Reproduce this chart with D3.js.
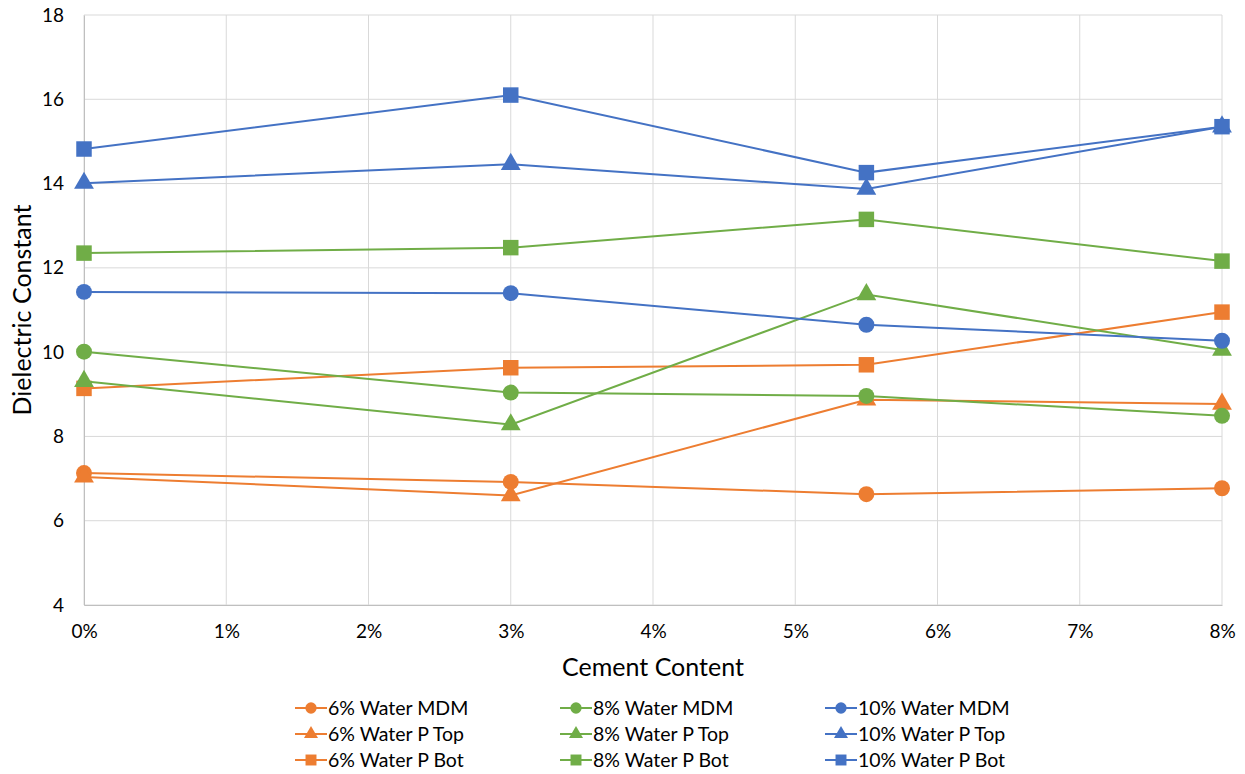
<!DOCTYPE html>
<html>
<head>
<meta charset="utf-8">
<script src="https://cdn.jsdelivr.net/npm/d3@7"></script>
<style>
  html, body { margin: 0; padding: 0; background: #fff; }
  svg { display: block; font-family: Lato, "Open Sans", sans-serif; }
</style>
</head>
<body>
<svg id="chart" width="1245" height="774"></svg>
<script>
// Cement content at which each measurement was taken
const cementContent = [0, 0.03, 0.055, 0.08];

// Dielectric constant readings per water content and method
const water6MDM  = [7.13, 6.92, 6.63, 6.77];
const water6PTop = [7.04, 6.60, 8.87, 8.77];
const water6PBot = [9.14, 9.63, 9.70, 10.95];
const water8MDM  = [10.01, 9.04, 8.96, 8.49];
const water8PTop = [9.31, 8.28, 11.37, 10.05];
const water8PBot = [12.35, 12.48, 13.15, 12.16];
const water10MDM  = [11.43, 11.40, 10.65, 10.27];
const water10PTop = [14.01, 14.46, 13.87, 15.35];
const water10PBot = [14.82, 16.10, 14.26, 15.35];

const xTicks = [0, 0.01, 0.02, 0.03, 0.04, 0.05, 0.06, 0.07, 0.08];
const yTicks = [4, 6, 8, 10, 12, 14, 16, 18];

const seriesNames = [
  "6% Water MDM", "6% Water P Top", "6% Water P Bot",
  "8% Water MDM", "8% Water P Top", "8% Water P Bot",
  "10% Water MDM", "10% Water P Top", "10% Water P Bot"
];
const seriesValues = [
  water6MDM, water6PTop, water6PBot,
  water8MDM, water8PTop, water8PBot,
  water10MDM, water10PTop, water10PBot
];

const orange = "#ED7D31", green = "#70AD47", blue = "#4472C4";
const colorOf = name => name.startsWith("6%") ? orange : name.startsWith("8%") ? green : blue;
const shapeOf = name => name.endsWith("MDM") ? d3.symbolCircle
                      : name.endsWith("Top") ? d3.symbolTriangle : d3.symbolSquare;

const series = seriesNames.map((name, i) => ({
  name,
  color: colorOf(name),
  shape: shapeOf(name),
  points: cementContent.map((c, j) => ({ x: c, y: seriesValues[i][j] }))
}));

const svg = d3.select("#chart");
const plot = { left: 84, right: 1222, top: 15, bottom: 605 };

const x = d3.scaleLinear().domain([0, 0.08]).range([plot.left, plot.right]);
const y = d3.scaleLinear().domain([4, 18]).range([plot.bottom, plot.top]);

// Gridlines
const grid = svg.append("g");
grid.selectAll("line.h").data(yTicks).join("line")
  .attr("x1", plot.left).attr("x2", plot.right)
  .attr("y1", d => y(d)).attr("y2", d => y(d))
  .attr("stroke", "#d9d9d9").attr("stroke-width", 1);
grid.selectAll("line.v").data(xTicks).join("line")
  .attr("y1", plot.top).attr("y2", plot.bottom)
  .attr("x1", d => x(d)).attr("x2", d => x(d))
  .attr("stroke", "#d9d9d9").attr("stroke-width", 1);

// Axes
const xAxis = svg.append("g")
  .attr("transform", `translate(0,${plot.bottom})`)
  .call(d3.axisBottom(x).tickValues(xTicks).tickFormat(d3.format(".0%")).tickSize(0).tickPadding(20));
xAxis.select(".domain").attr("stroke", "#bfbfbf");
xAxis.selectAll("text").attr("font-size", 19).attr("fill", "#000").attr("font-family", "Lato, sans-serif");

const yAxis = svg.append("g")
  .attr("transform", `translate(${plot.left},0)`)
  .call(d3.axisLeft(y).tickValues(yTicks).tickSize(0).tickPadding(20));
yAxis.select(".domain").attr("stroke", "#bfbfbf");
yAxis.selectAll("text").attr("font-size", 19).attr("fill", "#000").attr("font-family", "Lato, sans-serif");

// Axis titles
svg.append("text")
  .attr("x", (plot.left + plot.right) / 2).attr("y", 676)
  .attr("text-anchor", "middle").attr("font-size", 25).attr("fill", "#000")
  .text("Cement Content");
svg.append("text")
  .attr("transform", `translate(31,${(plot.top + plot.bottom) / 2}) rotate(-90)`)
  .attr("text-anchor", "middle").attr("font-size", 25).attr("fill", "#000")
  .text("Dielectric Constant");

// Series lines and markers
const line = d3.line().x(d => x(d.x)).y(d => y(d.y));
const symbolArea = s => s === d3.symbolCircle ? 200 : s === d3.symbolSquare ? 240 : 170;

const seriesG = svg.append("g").selectAll("g").data(series).join("g");
seriesG.append("path")
  .attr("d", d => line(d.points))
  .attr("fill", "none").attr("stroke", d => d.color).attr("stroke-width", 2);
seriesG.each(function (s) {
  d3.select(this).selectAll("path.m").data(s.points).join("path")
    .attr("class", "m")
    .attr("transform", p => `translate(${x(p.x)},${y(p.y)})`)
    .attr("d", d3.symbol().type(s.shape).size(symbolArea(s.shape)))
    .attr("fill", s.color);
});

// Legend: three columns, one per water content
const legendCols = [295, 560, 825];
const legendRows = [708, 734, 760];
const legend = svg.append("g").selectAll("g").data(series).join("g")
  .attr("transform", (d, i) => `translate(${legendCols[Math.floor(i / 3)]},${legendRows[i % 3]})`);
legend.append("line")
  .attr("x1", 0).attr("x2", 32).attr("y1", 0).attr("y2", 0)
  .attr("stroke", d => d.color).attr("stroke-width", 2);
legend.append("path")
  .attr("transform", "translate(16,0)")
  .attr("d", d => d3.symbol().type(d.shape).size(symbolArea(d.shape) * 0.5)())
  .attr("fill", d => d.color);
legend.append("text")
  .attr("x", 33).attr("y", 0).attr("dy", "0.35em")
  .attr("font-size", 19.5).attr("fill", "#000")
  .text(d => d.name);
</script>
</body>
</html>
